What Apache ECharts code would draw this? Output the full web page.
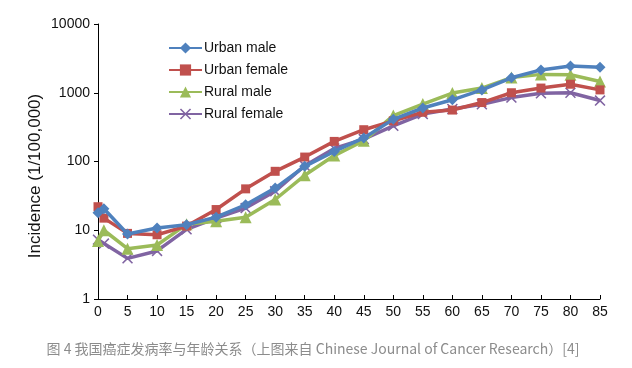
<!DOCTYPE html>
<html><head><meta charset="utf-8">
<script src="https://cdn.jsdelivr.net/npm/echarts@6/dist/echarts.min.js"></script>
<style>html,body{margin:0;padding:0;background:#fff}#c{width:632px;height:368px}</style>
</head><body><div id="c"></div>
<script>
const ages = [0, 1, 5, 10, 15, 20, 25, 30, 35, 40, 45, 50, 55, 60, 65, 70, 75, 80, 85];
const urbanMale   = [18, 20.5, 8.8, 10.8, 12, 15.5, 23.5, 41, 85, 140, 220, 410, 600, 790, 1100, 1650, 2150, 2450, 2350];
const urbanFemale = [22, 15, 9, 8.6, 11.5, 20, 40, 72, 116, 196, 290, 390, 520, 560, 720, 1000, 1170, 1330, 1100];
const ruralMale   = [7, 10, 5.4, 6.1, 12.2, 13.5, 15.5, 28, 63, 122, 200, 465, 685, 990, 1170, 1660, 1850, 1830, 1460];
const ruralFemale = [7.3, 6.4, 3.9, 5, 10.3, 15, 21, 37, 87, 155, 212, 330, 490, 580, 680, 850, 980, 1000, 770];
const seriesNames = ['Urban male', 'Urban female', 'Rural male', 'Rural female'];
const yAxisTitle = 'Incidence (1/100,000)';
const caption = '图 4 我国癌症发病率与年龄关系（上图来自 Chinese Journal of Cancer Research）[4]';

const colors = ['#4F81BD', '#C0504D', '#9BBB59', '#8064A2'];
const symbols = ['diamond', 'rect', 'triangle',
  'path://M0,1L1,0L5,4L9,0L10,1L6,5L10,9L9,10L5,6L1,10L0,9L4,5Z'];
const sizes = [11, 9, 12, 11];
const allValues = [urbanMale, urbanFemale, ruralMale, ruralFemale];
const FONT = '"Liberation Sans", Arial, sans-serif';

const chart = echarts.init(document.getElementById('c'), null, {renderer: 'canvas'});
chart.setOption({
  animation: false,
  color: colors,
  grid: {left: 98, right: 32, top: 24, bottom: 69},
  legend: {
    orient: 'vertical', left: 163, top: 36,
    itemWidth: 33, itemHeight: 14, itemGap: 8,
    textStyle: {fontFamily: FONT, fontSize: 14, color: '#111', padding: [0,0,0,-3]},
    data: seriesNames
  },
  xAxis: {
    type: 'value', min: 0, max: 85, interval: 5,
    axisLine: {lineStyle: {color: '#000', width: 1}},
    axisTick: {inside: true, length: 4, lineStyle: {color: '#000'}},
    axisLabel: {fontFamily: FONT, fontSize: 14, color: '#111', margin: 6},
    splitLine: {show: false}
  },
  yAxis: {
    type: 'log', logBase: 10, min: 1, max: 10000,
    axisLine: {show: true, lineStyle: {color: '#000', width: 1}},
    axisTick: {show: true, inside: false, length: 4, lineStyle: {color: '#000'}},
    axisLabel: {fontFamily: FONT, fontSize: 14, color: '#111', margin: 8,
      formatter: v => String(Math.round(v))},
    splitLine: {show: false}
  },
  graphic: [
    {type: 'text', x: 35, y: 176, rotation: Math.PI / 2,
      style: {text: yAxisTitle, font: '17px "Liberation Sans", Arial, sans-serif', fill: '#111', align: 'center', verticalAlign: 'middle'}},
    {type: 'text', x: 313, y: 349,
      style: {text: caption, font: '14px "Noto Sans CJK SC"', fill: '#8c8c8c', align: 'center', verticalAlign: 'middle'}}
  ],
  series: seriesNames.map((n, i) => ({
    name: n, type: 'line',
    data: ages.map((a, k) => [a, allValues[i][k]]),
    symbol: symbols[i], symbolSize: sizes[i], showSymbol: true,
    lineStyle: {width: 3.5, color: colors[i]},
    itemStyle: {color: colors[i]},
    z: 10 - i
  }))
});
</script></body></html>
